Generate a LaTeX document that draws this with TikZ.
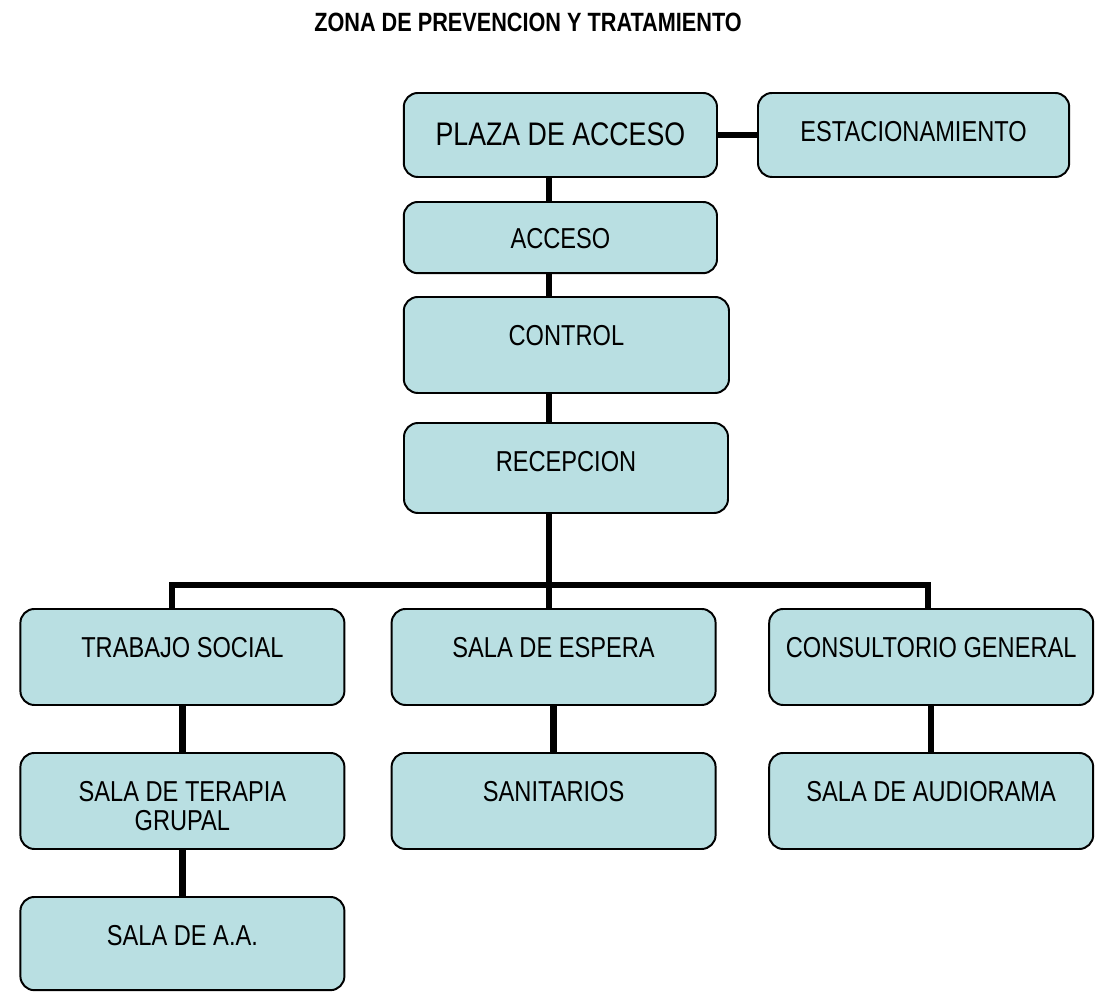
\documentclass[tikz,border=0pt]{standalone}
\usepackage{fontspec}
\newfontfamily\narrowfont[FakeStretch=0.82]{Liberation Sans}
\definecolor{cajaazul}{RGB}{185,223,226}

\begin{document}
\begin{tikzpicture}[line join=miter,x=1cm,y=1cm,
	caja/.style={draw=black,line width=1.4pt,fill=cajaazul,rounded corners=0.35cm,
		minimum width=8.1cm,minimum height=2.4cm,inner sep=0pt},
	rotulo/.style={anchor=center,align=center,inner sep=0pt,yshift=-1cm,
		font=\narrowfont\fontsize{20.5}{20.6}\selectfont},
	union/.style={line width=4.6pt,line cap=butt}]
	\useasboundingbox (0,0) rectangle (27.7,24.8);
	
	%%%% TITULO
	\node[font=\narrowfont\bfseries\fontsize{18.8}{20}\selectfont] (titulo) at (13.2,24.25) {ZONA DE PREVENCION Y TRATAMIENTO};
	
	%%%% ACCESO
	\node[caja,minimum width=7.83cm,minimum height=2.1cm,
		label={[rotulo,yshift=-0.05cm,font=\narrowfont\fontsize{23.2}{24}\selectfont]north:PLAZA DE ACCESO}] (plaza) at (14.01,21.425) {};
	\node[caja,minimum width=7.78cm,minimum height=2.1cm,
		label={[rotulo]north:ESTACIONAMIENTO}] (estac) at (22.84,21.425) {};
	\node[caja,minimum width=7.83cm,minimum height=1.78cm,
		label={[rotulo,yshift=0.05cm]north:ACCESO}] (acceso) at (14.01,18.86) {};
	\node[caja,minimum width=8.13cm,label={[rotulo]north:CONTROL}] (control) at (14.16,16.175) {};
	\node[caja,minimum height=2.25cm,label={[rotulo]north:RECEPCION}] (recep) at (14.15,13.1) {};
	
	%%%% AREAS
	\node[caja,label={[rotulo]north:TRABAJO SOCIAL}] (trabajo) at (4.56,8.375) {};
	\node[caja,label={[rotulo]north:SALA DE ESPERA}] (espera) at (13.84,8.375) {};
	\node[caja,label={[rotulo]north:CONSULTORIO GENERAL}] (consult) at (23.28,8.375) {};
	
	\node[caja,label={[rotulo,yshift=-0.36cm]north:{SALA DE TERAPIA\\GRUPAL}}] (terapia) at (4.56,4.775) {};
	\node[caja,label={[rotulo]north:SANITARIOS}] (sanit) at (13.84,4.775) {};
	\node[caja,label={[rotulo]north:SALA DE AUDIORAMA}] (audio) at (23.28,4.775) {};
	
	\node[caja,minimum height=2.33cm,label={[rotulo]north:SALA DE A.A.}] (salaaa) at (4.56,1.21) {};
	
	%%%% UNIONES
	\coordinate (espina) at (13.72,0);
	\coordinate (busizq) at (4.3,10.175);
	\coordinate (busder) at (23.2,10.175);
	
	\draw[union] (plaza.east) -- (estac.west);
	\draw[union] (plaza.south -| espina) -- (acceso.north -| espina);
	\draw[union] (acceso.south -| espina) -- (control.north -| espina);
	\draw[union] (control.south -| espina) -- (recep.north -| espina);
	\draw[union] (recep.south -| espina) -- (espera.north -| espina);
	\draw[union] (busizq |- trabajo.north) -- (busizq) -- (busder) -- (busder |- consult.north);
	
	\draw[union] (trabajo) -- (terapia);
	\draw[union] (terapia) -- (salaaa);
	\draw[union] (espera) -- (sanit);
	\draw[union] (consult) -- (audio);
\end{tikzpicture}
\end{document}
